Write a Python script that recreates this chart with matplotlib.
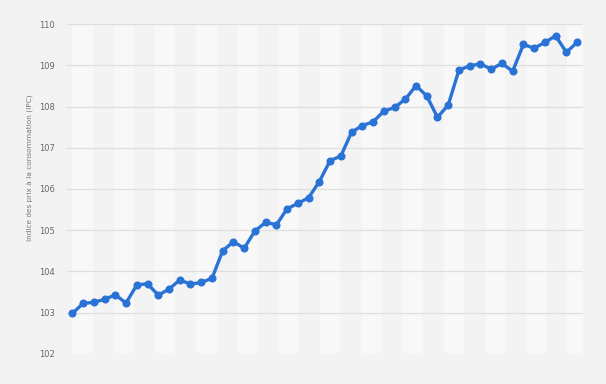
import matplotlib
matplotlib.use("Agg")
import matplotlib.pyplot as plt
import numpy as np

# Data (monthly CPI index)
values = [102.98, 103.22, 103.25, 103.32, 103.43, 103.23, 103.67, 103.70, 103.42, 103.57,
          103.79, 103.69, 103.73, 103.83, 104.50, 104.72, 104.56, 104.98, 105.19, 105.13,
          105.52, 105.65, 105.79, 106.18, 106.69, 106.80, 107.38, 107.54, 107.63, 107.89,
          107.98, 108.18, 108.51, 108.26, 107.74, 108.04, 108.89, 108.99, 109.04, 108.91,
          109.05, 108.86, 109.51, 109.42, 109.56, 109.72, 109.32, 109.56]
y_ticks = [102, 103, 104, 105, 106, 107, 108, 109, 110]
y_label = "Indice des prix à la consommation (IPC)"

x = np.arange(len(values))

fig = plt.figure(figsize=(6.06, 3.84), dpi=100, facecolor="#f3f3f3")
ax = fig.add_axes([67/606, 1-353.7/384, (583-67)/606, (353.7-24.3)/384])
ax.set_facecolor("#f3f3f3")

# alternating background bands
n_bands = 25
bw = len(values) / n_bands
for i in range(0, n_bands, 2):
    ax.axvspan(i*bw, (i+1)*bw, color="#f8f8f8", zorder=0, lw=0)

ax.set_xlim(-0.5, 47.55)
ax.set_ylim(102, 110)
ax.set_yticks(y_ticks)
ax.set_yticklabels([str(t) for t in y_ticks])
ax.set_xticks([])
for t in y_ticks:
    ax.axhline(t, color="#dedede", lw=0.9, zorder=1)

ax.plot(x, values, color="#2a73d6", lw=2.4, marker="o", markersize=4.8,
        solid_joinstyle="round", zorder=3, clip_on=False)

for s in ax.spines.values():
    s.set_visible(False)
ax.tick_params(axis="y", length=0, pad=8.5, labelsize=6, labelcolor="#666666")

fig.text(31/606, 1-168/384, y_label, rotation=90, ha="center", va="center",
         fontsize=5.3, color="#777777")

fig.savefig("out.png", dpi=100, facecolor=fig.get_facecolor())
